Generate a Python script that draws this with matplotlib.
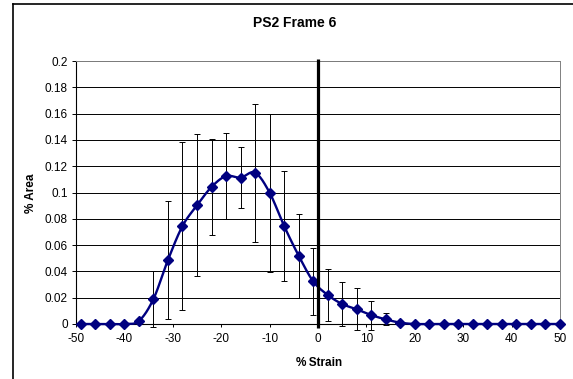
import numpy as np
import matplotlib
matplotlib.use("Agg")
import matplotlib.pyplot as plt
from matplotlib.lines import Line2D

plt.rcParams['font.family'] = ['Liberation Sans', 'DejaVu Sans']
plt.rcParams['axes.unicode_minus'] = False

# ---- data ----
strain = [-49, -46, -43, -40, -37, -34, -31, -28, -25, -22, -19, -16, -13, -10,
          -7, -4, -1, 2, 5, 8, 11, 14, 17, 20, 23, 26, 29, 32, 35, 38, 41, 44, 47, 50]
area = [0, 0, 0, 0, 0.0023, 0.019, 0.0487, 0.0745, 0.0902, 0.1042, 0.1125, 0.1113,
        0.1151, 0.0999, 0.0745, 0.0520, 0.0325, 0.0221, 0.0152, 0.0112, 0.0068,
        0.0035, 0.001, 0, 0, 0, 0, 0, 0, 0, 0, 0, 0, 0]
area_err = [0, 0, 0, 0, 0.001, 0.021, 0.045, 0.064, 0.054, 0.0366, 0.033, 0.023,
            0.0525, 0.060, 0.042, 0.032, 0.0254, 0.020, 0.017, 0.016, 0.011,
            0.0046, 0.001, 0, 0, 0, 0, 0, 0, 0, 0, 0, 0, 0]
xticks = [-50, -40, -30, -20, -10, 0, 10, 20, 30, 40, 50]
yticks = [0, 0.02, 0.04, 0.06, 0.08, 0.1, 0.12, 0.14, 0.16, 0.18, 0.2]
ytick_labels = ['0', '0.02', '0.04', '0.06', '0.08', '0.1', '0.12', '0.14', '0.16', '0.18', '0.2']
title = 'PS2 Frame 6'
xlabel = '%\u2009Strain'
ylabel = '% Area'
zero_line_x = 0

W, H = 573, 379
fig = plt.figure(figsize=(W / 100, H / 100), dpi=100)
ax = fig.add_axes([76 / W, 1 - 324 / H, (560 - 76) / W, (324 - 61) / H])

x = np.asarray(strain, float)
y = np.asarray(area, float)
e = np.asarray(area_err, float)


def catmull_rom(px, py, n=20):
    px = np.concatenate([[2 * px[0] - px[1]], px, [2 * px[-1] - px[-2]]])
    py = np.concatenate([[2 * py[0] - py[1]], py, [2 * py[-1] - py[-2]]])
    xs, ys = [], []
    t = np.linspace(0, 1, n, endpoint=False)
    for i in range(1, len(px) - 2):
        p0, p1, p2, p3 = (np.array([px[j], py[j]]) for j in range(i - 1, i + 3))
        b1 = p1 + (p2 - p0) / 6
        b2 = p2 - (p3 - p1) / 6
        for tt in t:
            pt = ((1 - tt) ** 3) * p1 + 3 * ((1 - tt) ** 2) * tt * b1 + 3 * (1 - tt) * tt ** 2 * b2 + tt ** 3 * p2
            xs.append(pt[0]); ys.append(pt[1])
    xs.append(px[-2]); ys.append(py[-2])
    return np.array(xs), np.array(ys)


# grid
for yt in yticks[1:]:
    ax.axhline(yt, color='black', lw=0.7, zorder=1)

# error bars
m = e > 0
ax.errorbar(x[m], y[m], yerr=e[m], fmt='none', ecolor='black', elinewidth=0.7,
            capsize=2.4, capthick=0.7, zorder=2, clip_on=False)

# smooth line
sx, sy = catmull_rom(x, y)
ax.plot(sx, sy, color='#000080', lw=1.7, zorder=3, solid_capstyle='round', clip_on=False)
ax.plot(x, y, linestyle='none', marker='D', markersize=5.3, color='#000080', zorder=4, clip_on=False)

# zero line
ax.plot([zero_line_x, zero_line_x], [-0.003, 0.2015], color='black', lw=2.3, zorder=5,
        clip_on=False, solid_capstyle='butt')

ax.set_xlim(-50, 50)
ax.set_ylim(0, 0.2)
ax.set_xticks(xticks)
ax.set_yticks(yticks)
ax.set_yticklabels(ytick_labels)
ax.tick_params(axis='x', direction='out', length=2.3, width=0.7, labelsize=8.5, pad=4)
ax.tick_params(axis='y', direction='out', length=3, width=0.7, labelsize=8.5, pad=3)
for s in ['top', 'right']:
    ax.spines[s].set_color('#808080')
    ax.spines[s].set_linewidth(0.7)
for s in ['left', 'bottom']:
    ax.spines[s].set_color('black')
    ax.spines[s].set_linewidth(0.8)

fig.text(295 / W, 1 - 23 / H, title, ha='center', va='center', fontsize=10, fontweight='bold')
fig.text(319 / W, 1 - 363 / H, xlabel, ha='center', va='center', fontsize=8.5, fontweight='bold',
         family=['Liberation Sans', 'DejaVu Sans'])
fig.text(31 / W, 1 - 193 / H, ylabel, ha='center', va='center', fontsize=8.5, fontweight='bold',
         rotation=90)

# outer chart border (partly cropped)
fig.add_artist(Line2D([12.5 / W, 12.5 / W], [0, 1 - 3.5 / H], color='black', lw=1.2,
                      transform=fig.transFigure))
fig.add_artist(Line2D([12.5 / W, 1], [1 - 3.5 / H, 1 - 3.5 / H], color='black', lw=1.2,
                      transform=fig.transFigure))

fig.savefig('out.png', dpi=100)
